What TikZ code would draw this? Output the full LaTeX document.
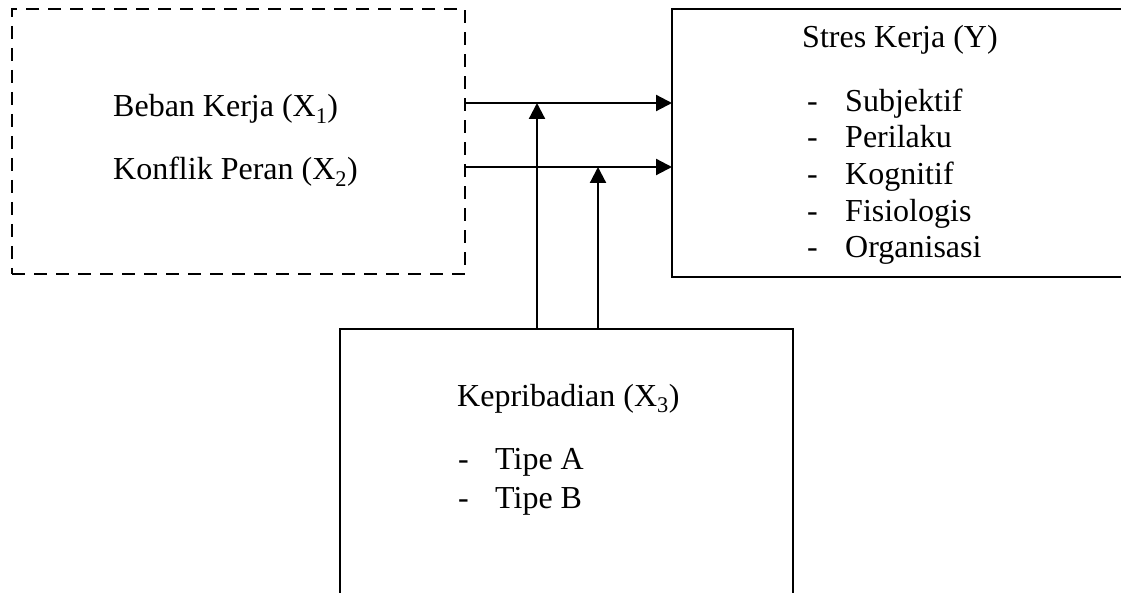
\documentclass[tikz,border=0pt]{standalone}
\usepackage{fontspec}
\setmainfont{Liberation Serif}
\usetikzlibrary{arrows.meta}
\begin{document}
\begin{tikzpicture}[x=1pt,y=-1pt,
  box/.style={draw,line width=2.2pt,inner sep=0pt,outer sep=0pt,anchor=north west},
  dbox/.style={box,dash pattern=on 13pt off 9pt},
  txt/.style={inner sep=0pt,anchor=base west,font=\fontsize{32}{36}\selectfont},
  arr/.style={line width=2.2pt,-{Triangle[length=16pt,width=16pt]}}]
\useasboundingbox (0,0) rectangle (1121,593);
\clip (0,0) rectangle (1121,593);
\node[dbox,minimum width=453pt,minimum height=265pt] (d) at (12,9) {};
\node[box,minimum width=460pt,minimum height=268pt] (y) at (672,9) {};
\node[box,minimum width=453pt,minimum height=280pt] (k) at (340,329) {};
% texts
\node[txt] (t1) at (113,117) {Beban Kerja (X\textsubscript{1})};
\node[txt] (t2) at (113,180) {Konflik Peran (X\textsubscript{2})};
\node[txt] (ty) at (802,48) {Stres Kerja (Y)};
\node[txt] (y1d) at (807,112) {-};
\node[txt] (y1) at (845,112) {Subjektif};
\node[txt] (y2d) at (807,148) {-};
\node[txt] (y2) at (845,148) {Perilaku};
\node[txt] (y3d) at (807,185) {-};
\node[txt] (y3) at (845,185) {Kognitif};
\node[txt] (y4d) at (807,222) {-};
\node[txt] (y4) at (845,222) {Fisiologis};
\node[txt] (y5d) at (807,258) {-};
\node[txt] (y5) at (845,258) {Organisasi};
\node[txt] (tk) at (457,406) {Kepribadian (X\textsubscript{3})};
\node[txt] (k1d) at (458,469) {-};
\node[txt] (k1) at (495,469) {Tipe A};
\node[txt] (k2d) at (458,508) {-};
\node[txt] (k2) at (495,508) {Tipe B};
% connectors
\coordinate (j1) at (537,103);
\coordinate (j2) at (598,167);
\draw[arr] (d.east |- j1) -- (y.west |- j1);
\draw[arr] (d.east |- j2) -- (y.west |- j2);
\draw[arr] (k.north -| j1) -- (j1);
\draw[arr] (k.north -| j2) -- (j2);
\end{tikzpicture}
\end{document}
